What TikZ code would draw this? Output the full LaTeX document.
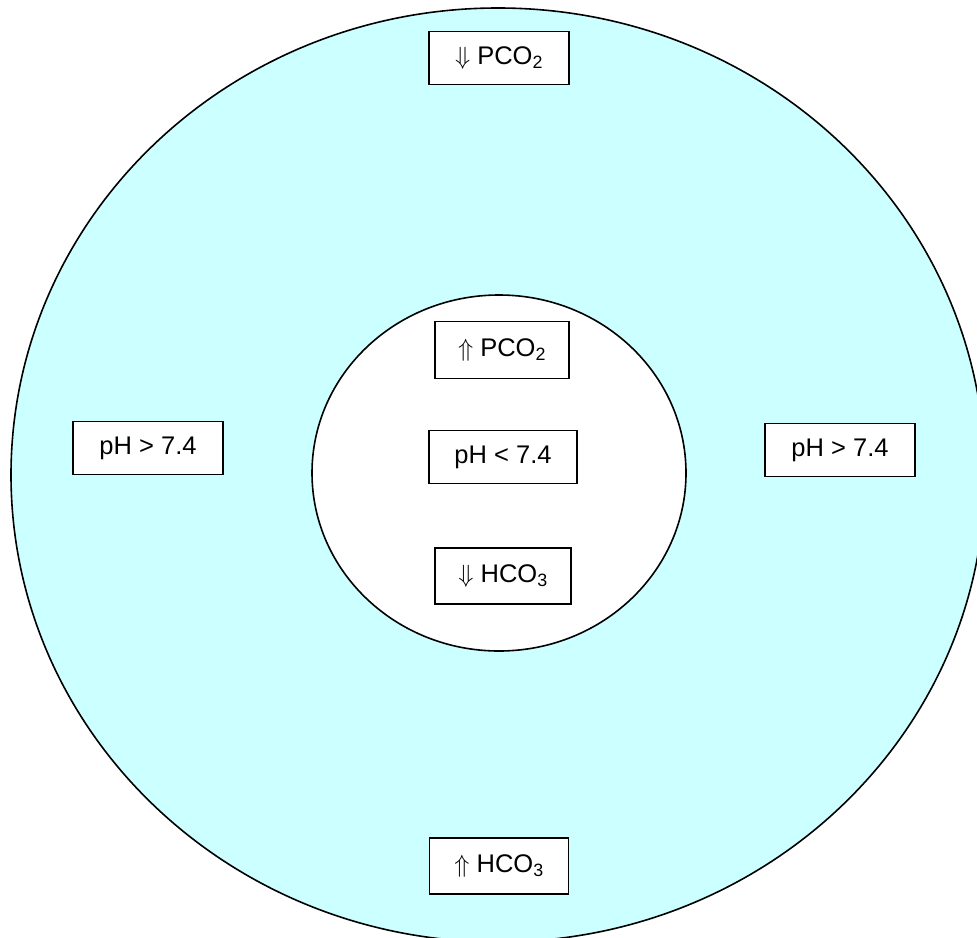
\documentclass[tikz,border=0pt]{standalone}
\usepackage{fontspec}
\setmainfont{Liberation Sans}
\usetikzlibrary{shapes.geometric}
\definecolor{paleCyan}{RGB}{204,255,255}
\tikzset{
  ring/.style={ellipse, draw=black, line width=1.6pt, inner sep=0pt, outer sep=0pt},
  labelbox/.style={rectangle, draw=black, fill=white, line width=1.6pt, inner sep=0pt,
    minimum height=53pt, font=\fontsize{25.5}{30}\selectfont},
}
\begin{document}
\begin{tikzpicture}[x=1pt,y=-1pt]
\useasboundingbox (0,0) rectangle (977,937);
\clip (0,0) rectangle (977,937);
\node[ring, fill=paleCyan, minimum width=974pt, minimum height=934pt] (outer) at (498,475) {};
\node[ring, fill=white, minimum width=374pt, minimum height=356pt] (inner) at (499,473) {};
\node[labelbox, minimum width=140pt] (topP) at (499,58) {$\Downarrow$ PCO\textsubscript{2}};
\node[labelbox, minimum width=134pt, minimum height=57pt] (inP) at (502,350) {$\Uparrow$ PCO\textsubscript{2}};
\node[labelbox, minimum width=148pt] (inpH) at (503,457) {pH < 7.4};
\node[labelbox, minimum width=136pt, minimum height=56pt] (inH) at (503,576) {$\Downarrow$ HCO\textsubscript{3}};
\node[labelbox, minimum width=139pt, minimum height=56pt] (botH) at (499,866) {$\Uparrow$ HCO\textsubscript{3}};
\node[labelbox, minimum width=150pt] (leftpH) at (148,448) {pH > 7.4};
\node[labelbox, minimum width=150pt] (rightpH) at (840,450) {pH > 7.4};
\end{tikzpicture}
\end{document}
